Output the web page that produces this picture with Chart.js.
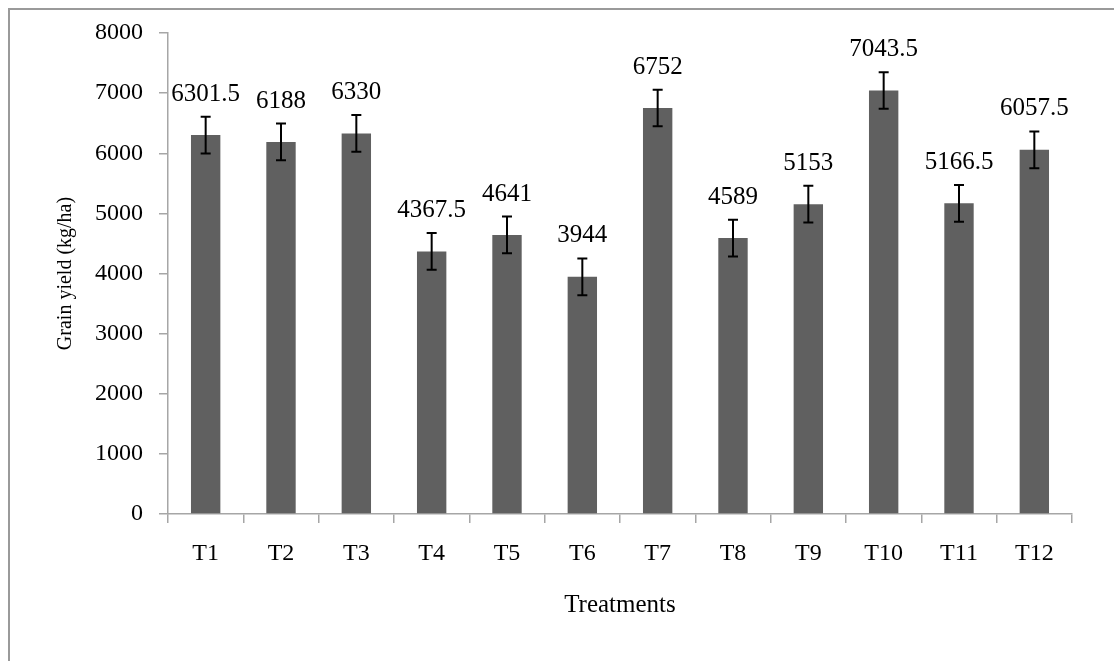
<!DOCTYPE html>
<html>
<head>
<meta charset="utf-8">
<script src="https://cdn.jsdelivr.net/npm/chart.js@4"></script>
<style>
  body { margin: 0; background: #fff; }
  #wrap { position: relative; width: 1114px; height: 661px; overflow: hidden; }
  #frame { position: absolute; left: 8px; top: 8px; width: 1200px; height: 800px;
           border-left: 2px solid #9a9a9a; border-top: 2px solid #9a9a9a; }
  canvas { position: absolute; left: 0; top: 0; }
</style>
</head>
<body>
<div id="wrap">
  <div id="frame"></div>
  <canvas id="grafik" width="1114" height="661"></canvas>
</div>
<script>
// data
const perlakuan = ['T1', 'T2', 'T3', 'T4', 'T5', 'T6', 'T7', 'T8', 'T9', 'T10', 'T11', 'T12'];
const hasilGabah = [6301.5, 6188, 6330, 4367.5, 4641, 3944, 6752, 4589, 5153, 7043.5, 5166.5, 6057.5];
const galat = [305, 305, 305, 305, 305, 305, 305, 305, 305, 305, 305, 305];
const labelSumbuY = [0, 1000, 2000, 3000, 4000, 5000, 6000, 7000, 8000];

const hurufSerif = "'Liberation Serif', 'Times New Roman', serif";
const abuGaris = '#a6a6a6';

// error bar + angka di atas batang
const pluginGalat = {
    id: 'galat',
    afterDatasetsDraw(chart) {
        const ctx = chart.ctx;
        const y = chart.scales.y;
        const meta = chart.getDatasetMeta(0);
        ctx.save();
        meta.data.forEach((bar, i) => {
            const v = hasilGabah[i];
            const atas = y.getPixelForValue(v + galat[i]);
            const bawah = y.getPixelForValue(v - galat[i]);
            ctx.strokeStyle = '#000';
            ctx.lineWidth = 2;
            ctx.beginPath();
            ctx.moveTo(bar.x, atas);
            ctx.lineTo(bar.x, bawah);
            ctx.moveTo(bar.x - 5, atas);
            ctx.lineTo(bar.x + 5, atas);
            ctx.moveTo(bar.x - 5, bawah);
            ctx.lineTo(bar.x + 5, bawah);
            ctx.stroke();

            ctx.fillStyle = '#000';
            ctx.font = '25px ' + hurufSerif;
            ctx.textAlign = 'center';
            ctx.textBaseline = 'middle';
            ctx.fillText(String(v), bar.x, y.getPixelForValue(v) - 41);
        });
        ctx.restore();
    }
};

const ctx = document.getElementById('grafik').getContext('2d');
new Chart(ctx, {
    type: 'bar',
    data: {
        labels: perlakuan,
        datasets: [{
            label: 'Grain yield',
            data: hasilGabah,
            backgroundColor: '#606060',
            borderWidth: 0,
            barPercentage: 0.39,
            categoryPercentage: 1
        }]
    },
    options: {
        responsive: false,
        animation: false,
        devicePixelRatio: 1,
        layout: { padding: { left: 46, right: 42, top: 33, bottom: 0 } },
        plugins: {
            legend: { display: false },
            tooltip: { enabled: false }
        },
        scales: {
            x: {
                afterFit: s => { s.height = 147; },
                grid: { drawOnChartArea: false, tickLength: 9, color: abuGaris, lineWidth: 1.5 },
                border: { color: abuGaris, width: 1.5 },
                ticks: { color: '#000', padding: 16, font: { family: hurufSerif, size: 24 } },
                title: {
                    display: true,
                    text: 'Treatments',
                    color: '#000',
                    font: { family: hurufSerif, size: 25 },
                    padding: { top: 0, bottom: 41 }
                }
            },
            y: {
                min: 0,
                max: 8000,
                afterFit: s => { s.width = 122; },
                afterBuildTicks: s => { s.ticks = labelSumbuY.map(v => ({ value: v })); },
                grid: { drawOnChartArea: false, tickLength: 9, color: abuGaris, lineWidth: 1.5 },
                border: { color: abuGaris, width: 1.5 },
                ticks: {
                    color: '#000',
                    padding: 16,
                    font: { family: hurufSerif, size: 24 },
                    callback: v => String(v)
                },
                title: {
                    display: true,
                    text: 'Grain yield (kg/ha)',
                    color: '#000',
                    font: { family: hurufSerif, size: 20 },
                    padding: { top: 8, bottom: 0 }
                }
            }
        }
    },
    plugins: [pluginGalat]
});
</script>
</body>
</html>
